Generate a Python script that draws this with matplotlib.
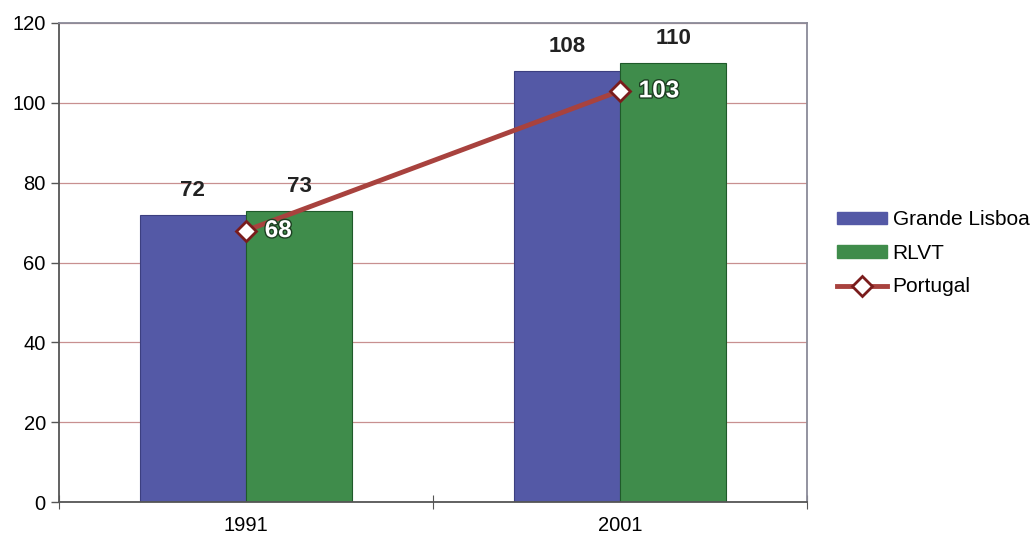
import matplotlib
matplotlib.use("Agg")
import matplotlib.pyplot as plt
import matplotlib.patheffects as pe
from matplotlib.lines import Line2D
from matplotlib.patches import Patch
import numpy as np

plt.rcParams['font.family'] = ['Liberation Sans', 'DejaVu Sans']

categories = ["1991", "2001"]
grande_lisboa = [72, 108]
rlvt = [73, 110]
portugal = [68, 103]
series_names = ["Grande Lisboa", "RLVT", "Portugal"]
yticks = [0, 20, 40, 60, 80, 100, 120]

c_blue = "#5459a6"
c_green = "#3f8c4b"
c_line = "#a8423e"

fig = plt.figure(figsize=(10.36, 5.43), dpi=100)
ax = fig.add_axes([59/1036, 1-502/543, (807-59)/1036, (502-23)/543])

x = np.arange(len(categories))
w = 0.284
ax.bar(x - w/2, grande_lisboa, w, color=c_blue, edgecolor="#3c3f80", linewidth=0.8, zorder=2)
ax.bar(x + w/2, rlvt, w, color=c_green, edgecolor="#1f5a2a", linewidth=0.8, zorder=2)
ax.plot(x, portugal, color=c_line, lw=3.5, marker="D", markersize=10,
        markerfacecolor="white", markeredgecolor="#7a1c1c", markeredgewidth=2, zorder=4)

for xi, v in zip(x - w/2, grande_lisboa):
    ax.text(xi, v + 3.4, str(v), ha="center", va="bottom", fontsize=16, fontweight="bold", color="#222222")
for xi, v in zip(x + w/2, rlvt):
    ax.text(xi, v + 3.4, str(v), ha="center", va="bottom", fontsize=16, fontweight="bold", color="#222222")
for xi, v in zip(x, portugal):
    ax.text(xi + 0.05, v, str(v), ha="left", va="center", fontsize=17.5, fontweight="bold", color="white",
            path_effects=[pe.withStroke(linewidth=2, foreground="#1d3f22")], zorder=5)

ax.set_xlim(-0.5, 1.5)
ax.set_ylim(0, 120)
ax.set_yticks(yticks)
ax.set_yticklabels([str(t) for t in yticks], fontsize=14.5)
ax.yaxis.grid(True, color="#c89090", lw=0.9, zorder=0)
ax.set_axisbelow(True)

ax.set_xticks([-0.5, 0.5, 1.5])
ax.set_xticklabels([])
ax.tick_params(axis="x", which="major", direction="inout", length=10, color="#555555")
ax.set_xticks(x, minor=True)
ax.set_xticklabels(categories, minor=True, fontsize=14.5)
ax.tick_params(axis="x", which="minor", length=0, pad=10)
ax.tick_params(axis="y", length=6, color="#555555", width=1)

for s in ["left", "bottom"]:
    ax.spines[s].set_color("#555555")
    ax.spines[s].set_linewidth(1.3)
for s in ["top", "right"]:
    ax.spines[s].set_color("#8a8a98")
    ax.spines[s].set_linewidth(1.3)

handles = [Patch(facecolor=c_blue, edgecolor=c_blue),
           Patch(facecolor=c_green, edgecolor=c_green),
           Line2D([0], [0], color=c_line, lw=3.5, marker="D", markersize=10,
                  markerfacecolor="white", markeredgecolor="#7a1c1c", markeredgewidth=2)]
fig.legend(handles, series_names, loc="upper left", bbox_to_anchor=(829/1036, 1-202/543),
           frameon=False, fontsize=15, handlelength=2.4, handleheight=0.55,
           labelspacing=0.7, handletextpad=0.25, borderaxespad=0)

fig.savefig("out.png", dpi=100)
